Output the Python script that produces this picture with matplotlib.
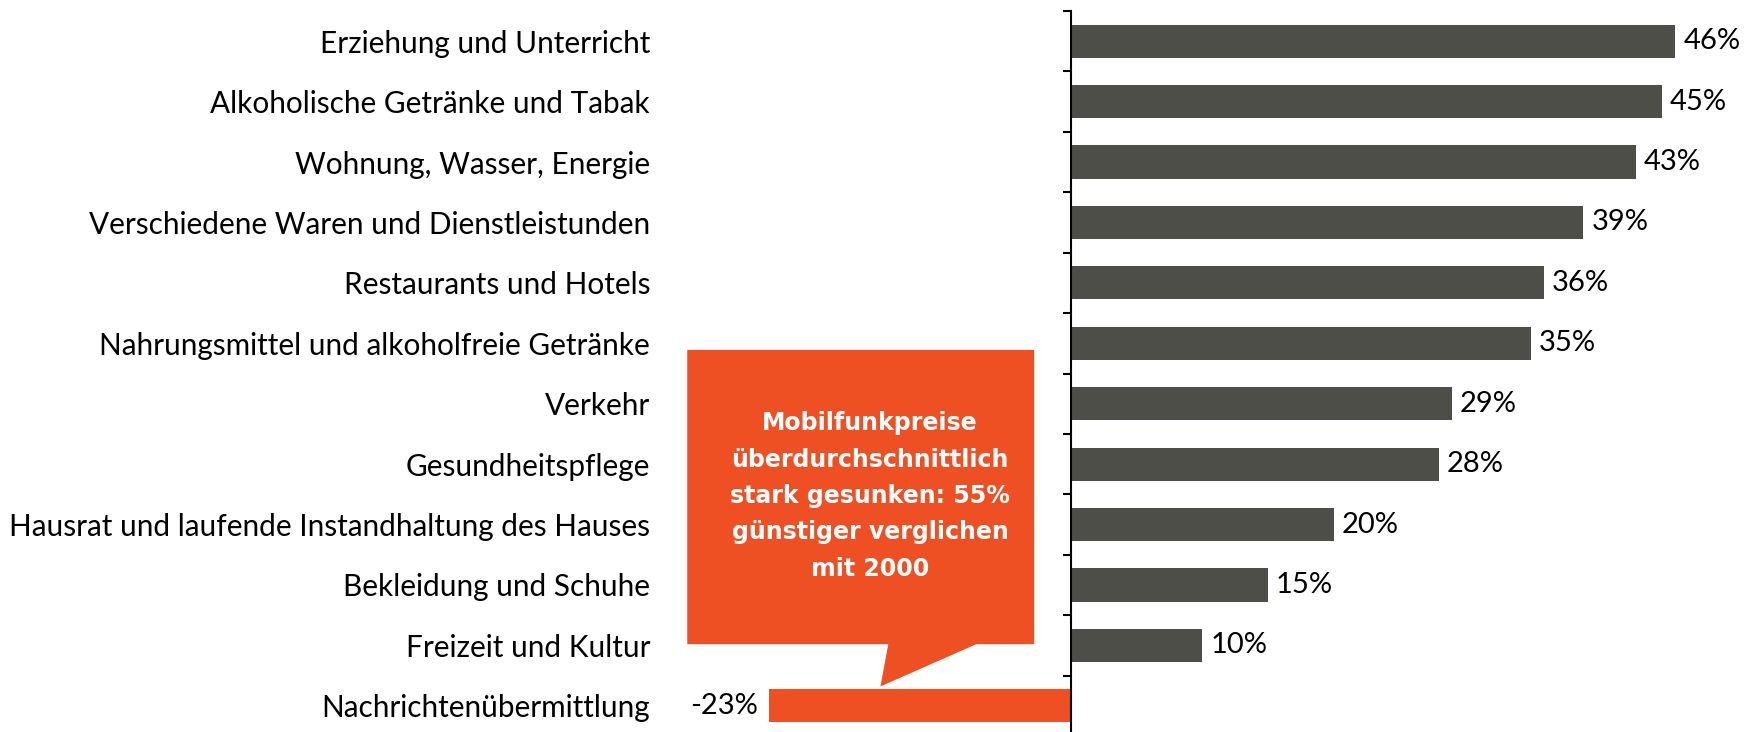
import matplotlib.pyplot as plt
from matplotlib.patches import Polygon
from matplotlib.ticker import FixedLocator

# Preisveränderung seit 2000 nach Kategorie
categories = [
    "Erziehung und Unterricht",
    "Alkoholische Getränke und Tabak",
    "Wohnung, Wasser, Energie",
    "Verschiedene Waren und Dienstleistunden",
    "Restaurants und Hotels",
    "Nahrungsmittel und alkoholfreie Getränke",
    "Verkehr",
    "Gesundheitspflege",
    "Hausrat und laufende Instandhaltung des Hauses",
    "Bekleidung und Schuhe",
    "Freizeit und Kultur",
    "Nachrichtenübermittlung",
]
values = [46, 45, 43, 39, 36, 35, 29, 28, 20, 15, 10, -23]
value_labels = ["46%", "45%", "43%", "39%", "36%", "35%", "29%", "28%", "20%", "15%", "10%", "-23%"]
callout_text = "Mobilfunkpreise\nüberdurchschnittlich\nstark gesunken: 55%\ngünstiger verglichen\nmit 2000"

grey = "#4e4e49"
orange = "#ee5024"
label_font = "Lato"
fs = 21

fig = plt.figure(figsize=(17.49, 7.32), dpi=100)
ax = fig.add_axes([0, -4 / 732, 1, 725 / 732])

y = list(range(len(categories)))
colors = [orange if v < 0 else grey for v in values]
ax.barh(y, values, height=0.55, color=colors, zorder=2)

ax.set_xlim(-81.5, 51.6)
ax.set_ylim(11.5, -0.5)

# value labels
for yi, v, lab in zip(y, values, value_labels):
    if v >= 0:
        ax.text(v + 0.6, yi, lab, ha="left", va="center", fontsize=fs, family=label_font)
    else:
        ax.text(v - 0.8, yi, lab, ha="right", va="center", fontsize=fs, family=label_font)

# axis styling
for s in ["top", "right", "bottom"]:
    ax.spines[s].set_visible(False)
ax.spines["left"].set_position(("data", 0))
ax.spines["left"].set_linewidth(1.5)
ax.spines["left"].set_zorder(3)
ax.xaxis.set_visible(False)
ax.set_yticks(y)
ax.set_yticklabels(categories, fontsize=21.4, family=label_font)
ax.tick_params(axis="y", which="major", length=0, pad=303)
ax.yaxis.set_minor_locator(FixedLocator([i - 0.5 for i in range(len(categories) + 1)]))
ax.tick_params(axis="y", which="minor", length=6, width=1.5, direction="out")

# callout box
callout = Polygon(
    [(-29.2, 5.11), (-2.8, 5.11), (-2.8, 9.98), (-7.2, 9.98),
     (-14.5, 10.68), (-13.9, 9.98), (-29.2, 9.98)],
    closed=True, facecolor=orange, edgecolor="none", zorder=4)
ax.add_patch(callout)
ax.text(-15.3, 7.53, callout_text, ha="center", va="center", color="white",
        fontsize=17, fontweight="bold", family="DejaVu Sans",
        linespacing=1.65, zorder=5)

fig.savefig("out.png", dpi=100)
